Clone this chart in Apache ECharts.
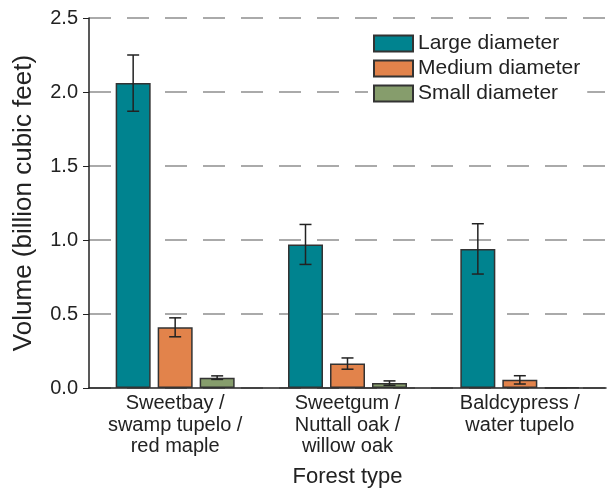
<!DOCTYPE html>
<html>
<head>
<meta charset="utf-8">
<script src="https://cdn.jsdelivr.net/npm/echarts@6/dist/echarts.min.js"></script>
<style>
  html, body { margin: 0; padding: 0; background: #fff; }
  #chart { width: 607px; height: 493px; }
</style>
</head>
<body>
<div id="chart"></div>
<script>
// Forest types on the x axis
const categories = [
  'Sweetbay /\nswamp tupelo /\nred maple',
  'Sweetgum /\nNuttall oak /\nwillow oak',
  'Baldcypress /\nwater tupelo'
];
const seriesNames = ['Large diameter', 'Medium diameter', 'Small diameter'];

// Volume (billion cubic feet) by diameter class
const largeValues  = [2.06, 0.97, 0.94];
const mediumValues = [0.41, 0.165, 0.055];
const smallValues  = [0.07, 0.033, 0.005];

// Half-width of each error bar
const largeErr  = [0.19, 0.135, 0.17];
const mediumErr = [0.064, 0.038, 0.028];
const smallErr  = [0.012, 0.015, 0];

const yTicks = [0, 0.5, 1.0, 1.5, 2.0, 2.5];

const colors = ['#00838f', '#e2834b', '#869d6c'];
const FONT = '"Liberation Sans", Arial, sans-serif';
const INK = '#222';
const BAR_W = 35;
const BAR_GAP = 7;

const values = [largeValues, mediumValues, smallValues];
const errors = [largeErr, mediumErr, smallErr];

// Whisker with caps centred on each bar of a group
function errorSeries(k) {
  const offset = (k - 1) * (BAR_W + BAR_GAP);
  const data = values[k].map((v, i) => [i, v - errors[k][i], v + errors[k][i]]);
  return {
    type: 'custom',
    name: seriesNames[k] + ' error',
    data: data,
    z: 5,
    silent: true,
    encode: { x: 0, y: [1, 2] },
    renderItem: function (params, api) {
      if (api.value(2) - api.value(1) <= 0) return null;
      const lo = api.coord([api.value(0), api.value(1)]);
      const hi = api.coord([api.value(0), api.value(2)]);
      const x = lo[0] + offset;
      const cap = 6;
      const style = { stroke: INK, lineWidth: 1.5 };
      return {
        type: 'group',
        children: [
          { type: 'line', shape: { x1: x, y1: lo[1], x2: x, y2: hi[1] }, style: style },
          { type: 'line', shape: { x1: x - cap, y1: hi[1], x2: x + cap, y2: hi[1] }, style: style },
          { type: 'line', shape: { x1: x - cap, y1: lo[1], x2: x + cap, y2: lo[1] }, style: style }
        ]
      };
    }
  };
}

const barSeries = values.map((vals, k) => ({
  type: 'bar',
  name: seriesNames[k],
  data: vals,
  barWidth: BAR_W,
  barGap: (BAR_GAP / BAR_W * 100) + '%',
  itemStyle: { color: colors[k], borderColor: '#333', borderWidth: 1.5 },
  z: 3
}));

const chart = echarts.init(document.getElementById('chart'), null, { renderer: 'canvas' });
chart.setOption({
  animation: false,
  backgroundColor: '#fff',
  textStyle: { fontFamily: FONT },
  grid: { left: 89, right: 1, top: 18, bottom: 99, containLabel: false },
  legend: {
    data: seriesNames,
    orient: 'vertical',
    left: 368,
    top: 31,
    itemWidth: 39,
    itemHeight: 16,
    itemGap: 4,
    padding: [2, 7, 2, 5],
    backgroundColor: '#fff',
    icon: 'rect',
    textStyle: { fontSize: 21, color: INK, fontFamily: FONT }
  },
  xAxis: {
    type: 'category',
    data: categories,
    name: 'Forest type',
    nameLocation: 'middle',
    nameGap: 78,
    nameTextStyle: { fontSize: 22, color: INK, fontFamily: FONT },
    axisLine: { show: true, lineStyle: { color: INK, width: 1.5 } },
    axisTick: { show: false },
    axisLabel: {
      interval: 0,
      fontSize: 20,
      color: INK,
      lineHeight: 21.5,
      margin: 5,
      fontFamily: FONT
    }
  },
  yAxis: {
    type: 'value',
    min: yTicks[0],
    max: yTicks[yTicks.length - 1],
    interval: 0.5,
    name: 'Volume (billion cubic feet)',
    nameLocation: 'middle',
    nameGap: 52,
    nameTextStyle: { fontSize: 26, color: INK, fontFamily: FONT },
    axisLine: { show: true, lineStyle: { color: INK, width: 1.5 } },
    axisTick: { show: true, length: 6, lineStyle: { color: INK, width: 1 } },
    axisLabel: {
      fontSize: 20,
      color: INK,
      margin: 11,
      fontFamily: FONT,
      formatter: v => v.toFixed(1)
    },
    splitLine: {
      show: true,
      lineStyle: { color: '#aaa', width: 2, type: [22, 16] }
    }
  },
  series: barSeries.concat([0, 1, 2].map(errorSeries))
});
</script>
</body>
</html>
